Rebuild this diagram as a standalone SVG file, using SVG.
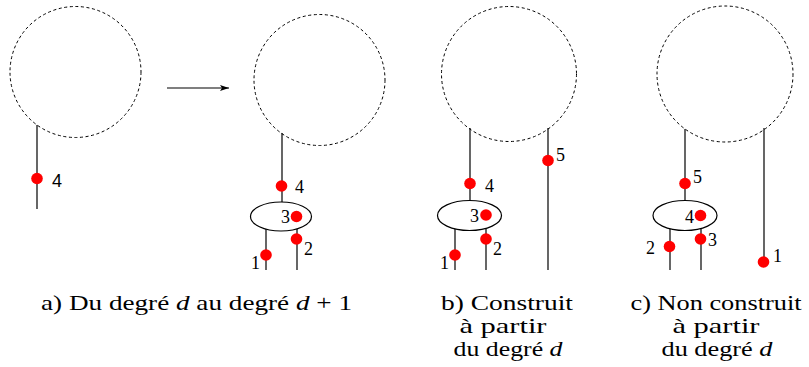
<svg xmlns="http://www.w3.org/2000/svg" width="809" height="367" viewBox="0 0 809 367" font-family="'Liberation Serif', 'Times New Roman', serif">
<defs>
<marker id="ah" markerWidth="10" markerHeight="8" refX="9" refY="4" orient="auto" markerUnits="userSpaceOnUse">
<path d="M0,1 L9,4 L0,7 L2,4 Z" fill="#000"/>
</marker>
</defs>
<g id="connectors">
<line x1="167" y1="88" x2="229" y2="88" stroke="#000" stroke-width="1.2" marker-end="url(#ah)"/>
</g>
<g id="panel-a-before">
<circle cx="75.5" cy="72" r="65.5" fill="none" stroke="#000" stroke-width="1" stroke-dasharray="3 2.6"/>
<line x1="37" y1="125" x2="37" y2="209" stroke="#000" stroke-width="1.2"/>
<circle cx="37" cy="178.5" r="5.8" fill="#f00"/>
<text x="52" y="187" font-family="'Liberation Sans', Arial, sans-serif" font-size="18">4</text>
</g>
<g id="panel-a-after" font-size="18">
<circle cx="319.5" cy="80" r="65.5" fill="none" stroke="#000" stroke-width="1" stroke-dasharray="3 2.6"/>
<g stroke="#000" stroke-width="1.2">
<line x1="282" y1="133" x2="282" y2="202"/>
<line x1="266" y1="229" x2="266" y2="270"/>
<line x1="297" y1="229" x2="297" y2="270"/>
</g>
<ellipse cx="281" cy="216.5" rx="30.5" ry="14.5" fill="#fff" stroke="#000" stroke-width="1.2"/>
<g fill="#f00">
<circle cx="281.5" cy="186" r="5.8"/>
<circle cx="296.5" cy="216.5" r="5.8"/>
<circle cx="296.5" cy="239" r="5.8"/>
<circle cx="266" cy="255" r="5.8"/>
</g>
<text x="295" y="193">4</text>
<text x="281" y="223">3</text>
<text x="304" y="255">2</text>
<text x="251" y="269">1</text>
</g>
<g id="panel-b" font-size="18">
<circle cx="509" cy="74" r="67.5" fill="none" stroke="#000" stroke-width="1" stroke-dasharray="3 2.6"/>
<g stroke="#000" stroke-width="1.2">
<line x1="470" y1="128" x2="470" y2="201"/>
<line x1="455" y1="229" x2="455" y2="270"/>
<line x1="486" y1="229" x2="486" y2="270"/>
<line x1="548" y1="128" x2="548" y2="270"/>
</g>
<ellipse cx="469.5" cy="215.5" rx="32" ry="15" fill="#fff" stroke="#000" stroke-width="1.2"/>
<g fill="#f00">
<circle cx="470" cy="183.5" r="5.8"/>
<circle cx="486" cy="215" r="5.8"/>
<circle cx="486" cy="239" r="5.8"/>
<circle cx="455" cy="255" r="5.8"/>
<circle cx="548" cy="160.5" r="5.8"/>
</g>
<text x="485" y="192">4</text>
<text x="470" y="222">3</text>
<text x="493" y="255">2</text>
<text x="440" y="269">1</text>
<text x="556" y="161">5</text>
</g>
<g id="panel-c" font-size="18">
<circle cx="725" cy="74" r="68" fill="none" stroke="#000" stroke-width="1" stroke-dasharray="3 2.6"/>
<g stroke="#000" stroke-width="1.2">
<line x1="685" y1="129" x2="685" y2="201"/>
<line x1="670" y1="229" x2="670" y2="270"/>
<line x1="701" y1="229" x2="701" y2="270"/>
<line x1="764" y1="128" x2="764" y2="262"/>
</g>
<ellipse cx="685" cy="215.5" rx="32" ry="15" fill="#fff" stroke="#000" stroke-width="1.2"/>
<g fill="#f00">
<circle cx="685" cy="183.5" r="5.8"/>
<circle cx="700.5" cy="215.5" r="5.8"/>
<circle cx="669.5" cy="246.5" r="5.8"/>
<circle cx="700.5" cy="239" r="5.8"/>
<circle cx="763.5" cy="262" r="5.8"/>
</g>
<text x="693" y="183">5</text>
<text x="685" y="223">4</text>
<text x="646" y="254">2</text>
<text x="708" y="246">3</text>
<text x="773" y="262">1</text>
</g>
<g id="captions" font-size="22" text-anchor="middle">
<text x="196.5" y="310" textLength="311" lengthAdjust="spacingAndGlyphs">a) Du degré <tspan font-style="italic">d</tspan> au degré <tspan font-style="italic">d</tspan> + 1</text>
<text x="507" y="310" textLength="132" lengthAdjust="spacingAndGlyphs">b) Construit</text>
<text x="503" y="333" textLength="87" lengthAdjust="spacingAndGlyphs">à partir</text>
<text x="508" y="356" textLength="109" lengthAdjust="spacingAndGlyphs">du degré <tspan font-style="italic">d</tspan></text>
<text x="716" y="310" textLength="171" lengthAdjust="spacingAndGlyphs">c) Non construit</text>
<text x="716" y="333" textLength="87" lengthAdjust="spacingAndGlyphs">à partir</text>
<text x="717" y="356" textLength="111" lengthAdjust="spacingAndGlyphs">du degré <tspan font-style="italic">d</tspan></text>
</g>
</svg>
